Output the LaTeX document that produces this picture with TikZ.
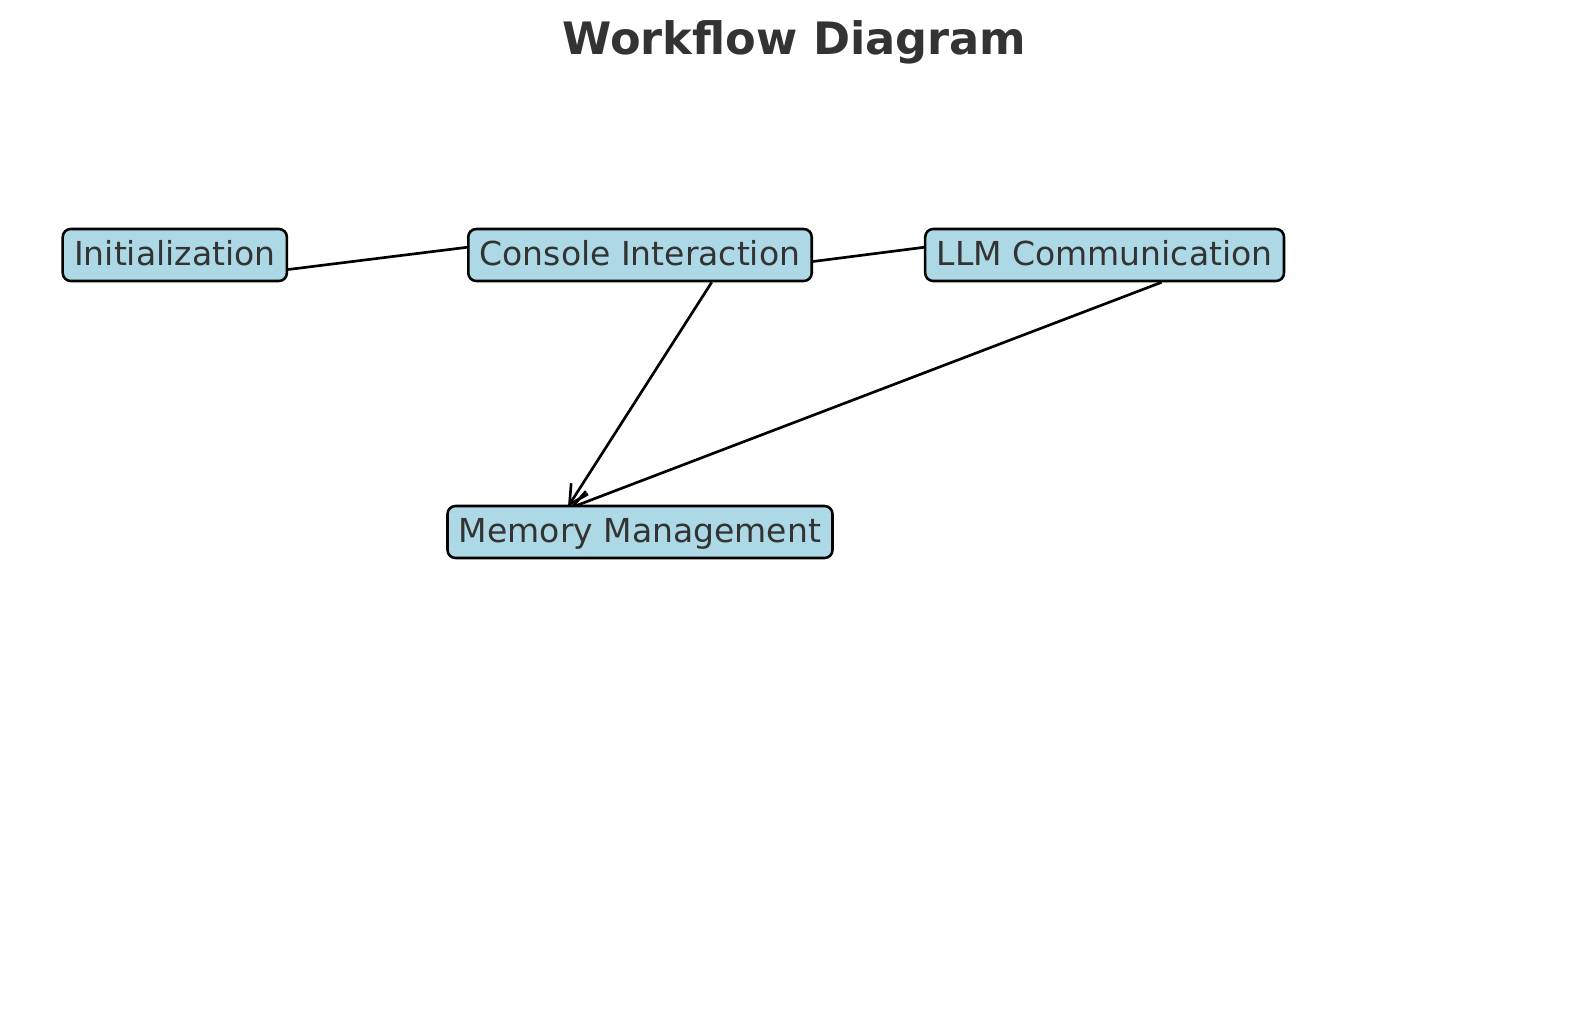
\documentclass[tikz,border=0pt]{standalone}
\usepackage{fontspec}
\setmainfont{DejaVu Sans}
\usetikzlibrary{arrows.meta,calc,backgrounds}
\definecolor{boxfill}{HTML}{ADD8E6}
\definecolor{txt}{HTML}{333333}
\tikzset{
  wfbox/.style={draw=black, fill=boxfill, line width=1.9pt, rounded corners=6pt,
    text=txt, font=\fontsize{24.75pt}{28pt}\selectfont,
    text height=18pt, text depth=3pt, inner ysep=9pt, inner xsep=8.6pt},
  wfedge/.style={draw=black, line width=2pt},
  wfarrow/.style={wfedge, -{Straight Barb[length=14pt,width=15pt,line width=2pt]}},
}
\begin{document}
\begin{tikzpicture}[x=0.75pt,y=-0.75pt]
\useasboundingbox (0,0) rectangle (1589,1014);
\node[anchor=base, text=txt, font=\bfseries\fontsize{33.5pt}{38pt}\selectfont] (title) at (794.5,54) {Workflow Diagram};
\node[wfbox] (init) at (174.8,255) {Initialization};
\node[wfbox] (con) at (640,255) {Console Interaction};
\node[wfbox] (llm) at (1104.6,255) {LLM Communication};
\node[wfbox] (mem) at (640,532) {Memory Management};
\begin{scope}[on background layer]
\draw[wfedge] ($(init.east)+(0,14.5)$) -- ($(con.west)+(0,-7.7)$);
\draw[wfedge] ($(con.east)+(0,6.5)$) -- ($(llm.west)+(0,-7.7)$);
\draw[wfarrow] ($(con.south)+(71.7,0)$) -- ($(mem.north)+(-72,2)$);
\draw[wfarrow] ($(llm.south)+(57,0)$) -- ($(mem.north)+(-70.6,3.5)$);
\end{scope}
\end{tikzpicture}
\end{document}
